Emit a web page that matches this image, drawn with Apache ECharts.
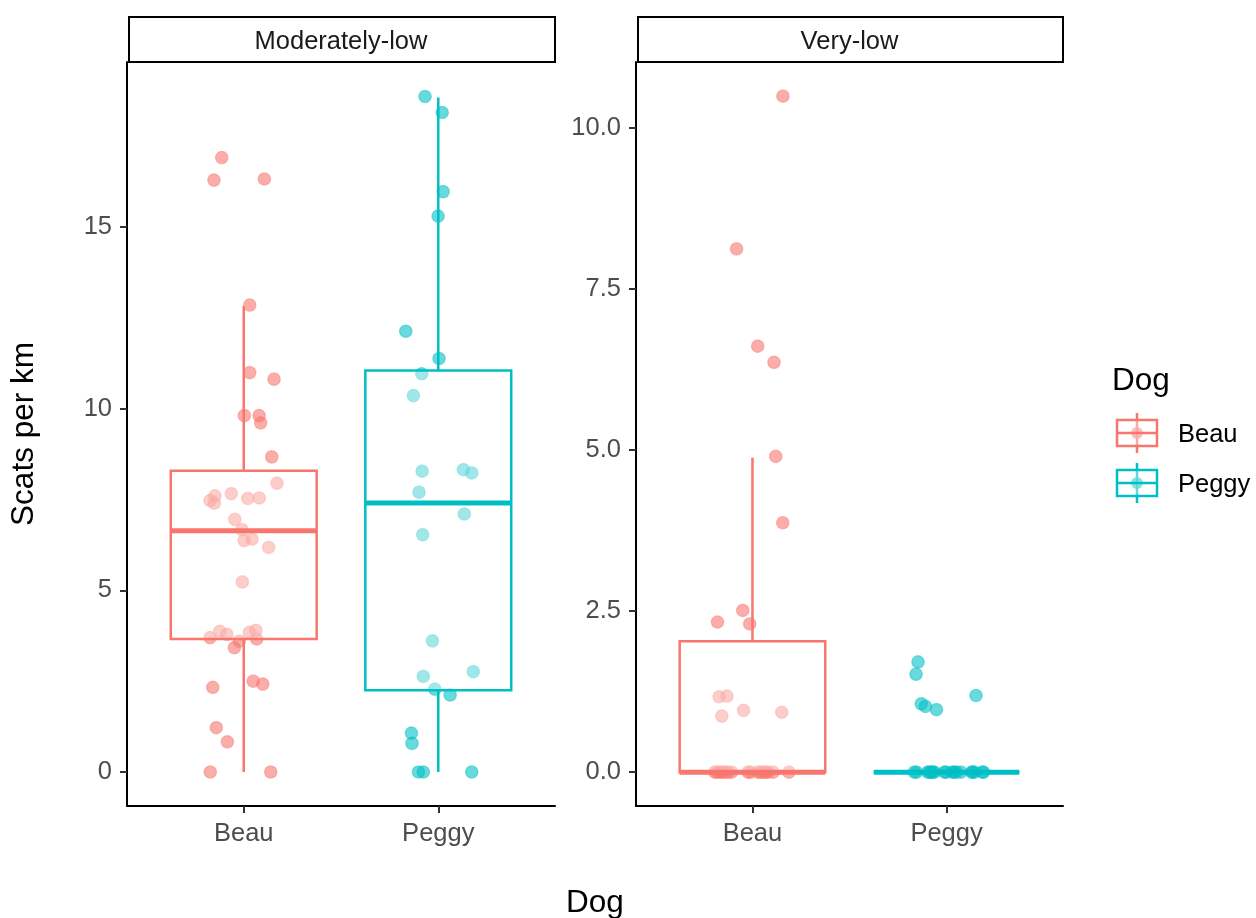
<!DOCTYPE html>
<html>
<head>
<meta charset="utf-8">
<script src="https://cdn.jsdelivr.net/npm/echarts@6/dist/echarts.min.js"></script>
<style>html,body{margin:0;padding:0;background:#fff;}#chart{width:1256px;height:918px;}</style>
</head>
<body>
<div id="chart"></div>
<script>
// ---------- data ----------
const dogs = ['Beau', 'Peggy'];
const facets = ['Moderately-low', 'Very-low'];
const dogColors = ['#F8766D', '#00BFC4'];
const dogRgb = ['248,118,109', '0,191,196'];
const leftTicks = [0, 5, 10, 15];
const rightTicks = [0, 2.5, 5, 7.5, 10];

// Moderately-low, Beau (x = jittered position around category 1)
const mlBeauX = [0.887,0.847,1.106,1.031,1.031,1.156,1.003,1.079,1.087,1.144,1.171,0.852,0.827,0.849,0.936,1.021,1.080,0.954,0.991,1.002,1.043,1.128,0.993,0.827,0.877,0.913,0.977,0.952,1.029,1.062,1.067,0.841,1.049,1.098,0.859,0.916,0.828,1.139];
const mlBeauY = [16.91,16.29,16.32,12.85,10.99,10.81,9.81,9.81,9.61,8.67,7.95,7.60,7.47,7.40,7.66,7.53,7.54,6.95,6.67,6.37,6.41,6.18,5.23,3.70,3.87,3.79,3.60,3.42,3.84,3.90,3.66,2.33,2.50,2.42,1.22,0.83,0,0];
// Moderately-low, Peggy
const mlPeggyX = [1.932,2.020,2.025,1.999,1.833,2.004,1.915,1.872,1.917,2.129,2.172,1.901,2.134,1.920,1.970,1.923,2.180,1.982,2.061,1.862,1.865,1.898,1.923,2.172];
const mlPeggyY = [18.59,18.15,15.97,15.30,12.13,11.38,10.96,10.36,8.28,8.32,8.23,7.70,7.10,6.53,3.61,2.63,2.76,2.28,2.12,1.07,0.79,0,0,0];
// Very-low, Beau
const vlBeauX = [1.157,0.918,1.027,1.111,1.120,1.156,0.950,0.820,0.986,0.828,0.869,0.842,0.954,1.151,0.806,0.818,0.832,0.845,0.858,0.875,0.892,0.977,0.990,1.029,1.042,1.055,1.068,1.080,1.106,1.188];
const vlBeauY = [10.49,8.12,6.61,6.36,4.90,3.87,2.51,2.33,2.30,1.17,1.18,0.87,0.96,0.93,0,0,0,0,0,0,0,0,0,0,0,0,0,0,0,0];
// Very-low, Peggy
const vlPeggyX = [1.853,1.843,1.870,1.891,1.948,2.152,1.834,1.845,1.903,1.912,1.920,1.930,1.937,1.990,1.997,2.030,2.040,2.050,2.074,2.130,2.134,2.145,2.186,2.190];
const vlPeggyY = [1.71,1.52,1.06,1.02,0.97,1.19,0,0,0,0,0,0,0,0,0,0,0,0,0,0,0,0,0,0];

// box statistics: [lower whisker, Q1, median, Q3, upper whisker]
const mlBeauBox = [0, 3.66, 6.64, 8.29, 12.82];
const mlPeggyBox = [0, 2.25, 7.40, 11.05, 18.56];
const vlBeauBox = [0, 0, 0, 2.03, 4.88];
const vlPeggyBox = [0, 0, 0, 0, 0];

// ---------- layout ----------
const FONT = "'Liberation Sans', Arial, Helvetica, sans-serif";
const TICK_FS = 25.5;
const TITLE_FS = 31.5;
const grids = [
  { left: 127, top: 62, width: 428, height: 744 },
  { left: 636, top: 62, width: 427, height: 744 }
];
const yRanges = [[-0.936, 19.54], [-0.525, 11.02]];

const chart = echarts.init(document.getElementById('chart'), null, { renderer: 'canvas' });

function zip(xs, ys) { return xs.map((x, i) => [x, ys[i]]); }

function renderBox(params, api) {
  const x = api.value(0);
  const lo = api.value(1), q1 = api.value(2), med = api.value(3), q3 = api.value(4), hi = api.value(5);
  const c = dogColors[api.value(6)];
  const hw = 0.375;
  const tl = api.coord([x - hw, q3]);
  const br = api.coord([x + hw, q1]);
  const mL = api.coord([x - hw, med]);
  const mR = api.coord([x + hw, med]);
  const pHi = api.coord([x, hi]);
  const pQ3 = api.coord([x, q3]);
  const pQ1 = api.coord([x, q1]);
  const pLo = api.coord([x, lo]);
  return {
    type: 'group',
    children: [
      { type: 'line', shape: { x1: pHi[0], y1: pHi[1], x2: pQ3[0], y2: pQ3[1] }, style: { stroke: c, lineWidth: 2.5 } },
      { type: 'line', shape: { x1: pQ1[0], y1: pQ1[1], x2: pLo[0], y2: pLo[1] }, style: { stroke: c, lineWidth: 2.5 } },
      { type: 'rect', shape: { x: tl[0], y: tl[1], width: br[0] - tl[0], height: br[1] - tl[1] },
        style: { fill: 'rgba(255,255,255,0.38)', stroke: c, lineWidth: 2.5 } },
      { type: 'line', shape: { x1: mL[0], y1: mL[1], x2: mR[0], y2: mR[1] }, style: { stroke: c, lineWidth: 5 } }
    ]
  };
}

function scatterSeries(name, idx, xs, ys, dogIdx) {
  return {
    type: 'scatter', name: name, xAxisIndex: idx, yAxisIndex: idx,
    data: zip(xs, ys), symbolSize: 12.5, z: 2,
    itemStyle: { color: 'rgba(' + dogRgb[dogIdx] + ',0.74)', borderColor: 'rgba(' + dogRgb[dogIdx] + ',0.55)', borderWidth: 1.2 },
    emphasis: { disabled: true }, animation: false
  };
}

function boxSeries(idx, beauBox, peggyBox) {
  return {
    type: 'custom', xAxisIndex: idx, yAxisIndex: idx, z: 3, clip: false,
    renderItem: renderBox,
    encode: { x: 0, y: [1, 2, 3, 4, 5] },
    data: [[1].concat(beauBox, [0]), [2].concat(peggyBox, [1])],
    animation: false
  };
}

function xAxis(idx) {
  return {
    type: 'value', gridIndex: idx, min: 0.4, max: 2.6,
    splitLine: { show: false },
    axisLine: { show: true, onZero: false, lineStyle: { color: '#000', width: 2 } },
    axisTick: { show: true, length: 7, customValues: [1, 2], lineStyle: { color: '#333', width: 2 } },
    axisLabel: { customValues: [1, 2], formatter: v => dogs[Math.round(v) - 1], fontSize: TICK_FS, color: '#4D4D4D', margin: 15, fontFamily: FONT }
  };
}

function yAxis(idx, ticks, fmt, name) {
  const a = {
    type: 'value', gridIndex: idx, min: yRanges[idx][0], max: yRanges[idx][1],
    splitLine: { show: false },
    axisLine: { show: true, onZero: false, lineStyle: { color: '#000', width: 2 } },
    axisTick: { show: true, length: 7, customValues: ticks, lineStyle: { color: '#333', width: 2 } },
    axisLabel: { customValues: ticks, formatter: fmt, fontSize: TICK_FS, color: '#4D4D4D', margin: 15, fontFamily: FONT }
  };
  if (name) {
    a.name = name;
    a.nameLocation = 'middle';
    a.nameGap = 87;
    a.nameTextStyle = { fontSize: TITLE_FS, color: '#000', fontFamily: FONT };
  }
  return a;
}

// strips and legend (non-data decorations)
const graphics = [];
grids.forEach((g, i) => {
  graphics.push({
    type: 'rect', left: g.left + 1, top: 16,
    shape: { width: g.width - 2, height: 45 },
    style: { fill: '#fff', stroke: '#000', lineWidth: 2 }, z: 10
  });
  graphics.push({
    type: 'text', x: g.left + g.width / 2, y: 42,
    style: { text: facets[i], fontSize: TICK_FS, fill: '#1A1A1A', fontFamily: FONT, align: 'center', verticalAlign: 'middle' }, z: 11
  });
});
graphics.push({
  type: 'text', x: (grids[0].left + grids[1].left + grids[1].width) / 2, y: 903,
  style: { text: 'Dog', fontSize: TITLE_FS, fill: '#000', fontFamily: FONT, align: 'center', verticalAlign: 'middle' }
});
graphics.push({
  type: 'text', x: 1112, y: 381,
  style: { text: 'Dog', fontSize: TITLE_FS, fill: '#000', fontFamily: FONT, align: 'left', verticalAlign: 'middle' }
});
dogs.forEach((d, i) => {
  const cy = 433 + i * 50;
  const c = dogColors[i];
  graphics.push({ type: 'line', shape: { x1: 1137, y1: cy - 20, x2: 1137, y2: cy + 20 }, style: { stroke: c, lineWidth: 2.5 } });
  graphics.push({ type: 'circle', shape: { cx: 1137, cy: cy, r: 6 }, style: { fill: 'rgba(' + dogRgb[i] + ',0.74)' } });
  graphics.push({ type: 'rect', shape: { x: 1117, y: cy - 13, width: 40, height: 26 }, style: { fill: 'rgba(255,255,255,0.38)', stroke: c, lineWidth: 2.5 } });
  graphics.push({ type: 'line', shape: { x1: 1117, y1: cy, x2: 1157, y2: cy }, style: { stroke: c, lineWidth: 2.5 } });
  graphics.push({
    type: 'text', x: 1178, y: cy + 2,
    style: { text: d, fontSize: TICK_FS, fill: '#000', fontFamily: FONT, align: 'left', verticalAlign: 'middle' }
  });
});

const option = {
  backgroundColor: '#fff',
  animation: false,
  textStyle: { fontFamily: FONT },
  grid: grids.map(g => Object.assign({ containLabel: false }, g)),
  xAxis: [xAxis(0), xAxis(1)],
  yAxis: [
    yAxis(0, leftTicks, v => String(v), 'Scats per km'),
    yAxis(1, rightTicks, v => v.toFixed(1), null)
  ],
  series: [
    scatterSeries('Beau', 0, mlBeauX, mlBeauY, 0),
    scatterSeries('Peggy', 0, mlPeggyX, mlPeggyY, 1),
    scatterSeries('Beau', 1, vlBeauX, vlBeauY, 0),
    scatterSeries('Peggy', 1, vlPeggyX, vlPeggyY, 1),
    boxSeries(0, mlBeauBox, mlPeggyBox),
    boxSeries(1, vlBeauBox, vlPeggyBox)
  ],
  graphic: graphics
};
chart.setOption(option);
</script>
</body>
</html>
